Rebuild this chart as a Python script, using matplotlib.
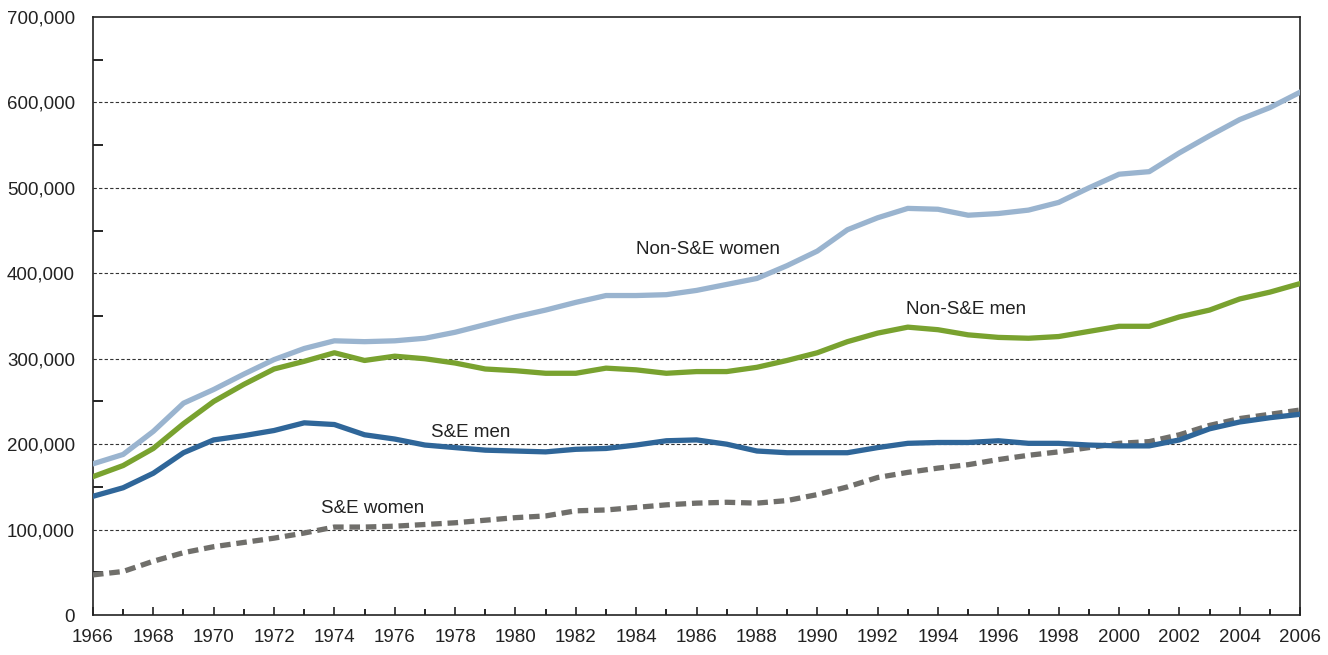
import matplotlib
matplotlib.use("Agg")
import matplotlib.pyplot as plt
from matplotlib.ticker import MultipleLocator, FuncFormatter

anios = list(range(1966, 2007))

non_se_mujeres = [177, 188, 215, 248, 264, 282, 299, 312, 321, 320,
                  321, 324, 331, 340, 349, 357, 366, 374, 374, 375,
                  380, 387, 394, 409, 426, 451, 465, 476, 475, 468,
                  470, 474, 483, 500, 516, 519, 541, 561, 580, 594, 612]

non_se_hombres = [162, 175, 195, 224, 250, 270, 288, 297, 307, 298,
                  303, 300, 295, 288, 286, 283, 283, 289, 287, 283,
                  285, 285, 290, 298, 307, 320, 330, 337, 334, 328,
                  325, 324, 326, 332, 338, 338, 349, 357, 370, 378, 388]

se_hombres = [139, 149, 166, 190, 205, 210, 216, 225, 223, 211,
              206, 199, 196, 193, 192, 191, 194, 195, 199, 204,
              205, 200, 192, 190, 190, 190, 196, 201, 202, 202,
              204, 201, 201, 199, 198, 198, 205, 218, 226, 231, 235]

se_mujeres = [47, 51, 63, 73, 80, 85, 90, 96, 103, 103,
              104, 106, 108, 111, 114, 116, 122, 123, 126, 129,
              131, 132, 131, 134, 141, 150, 161, 167, 172, 176,
              182, 187, 191, 196, 201, 203, 211, 222, 230, 235, 240]

etiquetas = ["Non-S&E women", "Non-S&E men", "S&E men", "S&E women"]

plt.rcParams["font.family"] = ["Liberation Sans", "DejaVu Sans"]

fig = plt.figure(figsize=(13.28, 6.55), dpi=100)
ax = fig.add_axes([0.070, 0.061, 0.909, 0.913])

def miles(lista):
    return [v * 1000 for v in lista]

ax.plot(anios, miles(non_se_mujeres), color="#9ab4cf", lw=3.8, zorder=3)
ax.plot(anios, miles(non_se_hombres), color="#79a22f", lw=3.8, zorder=3)
ax.plot(anios, miles(se_hombres), color="#2f6699", lw=3.8, zorder=4)
ax.plot(anios, miles(se_mujeres), color="#706f6b", lw=3.8, dashes=(2.0, 1.1), zorder=3)

ax.set_xlim(1966, 2006)
ax.set_ylim(0, 700000)

ax.xaxis.set_major_locator(MultipleLocator(2))
ax.xaxis.set_minor_locator(MultipleLocator(1))
ax.yaxis.set_major_locator(MultipleLocator(100000))
ax.yaxis.set_minor_locator(MultipleLocator(50000))
ax.yaxis.set_major_formatter(FuncFormatter(lambda v, p: f"{int(v):,}"))

ax.tick_params(axis="x", which="major", direction="in", length=6, width=1.2, labelsize=13.5, pad=10, colors="#222222")
ax.tick_params(axis="x", which="minor", direction="in", length=4, width=1.2)
ax.tick_params(axis="y", which="major", length=0, labelsize=13.5, pad=13, colors="#222222")
ax.tick_params(axis="y", which="minor", direction="in", length=7, width=1.2)

for v in range(100000, 700000, 100000):
    ax.axhline(v, color="#333333", lw=0.8, ls=(0, (3, 2)), zorder=1)

for lado in ["left", "bottom", "top", "right"]:
    ax.spines[lado].set_linewidth(1.2)
    ax.spines[lado].set_color("#222222")

ax.text(1984.0, 428000, etiquetas[0], fontsize=13.5, color="#222222", va="center")
ax.text(1992.95, 358000, etiquetas[1], fontsize=13.5, color="#222222", va="center")
ax.text(1977.2, 214000, etiquetas[2], fontsize=13.5, color="#222222", va="center")
ax.text(1973.55, 125000, etiquetas[3], fontsize=13.5, color="#222222", va="center")

fig.savefig("out.png", dpi=100)
